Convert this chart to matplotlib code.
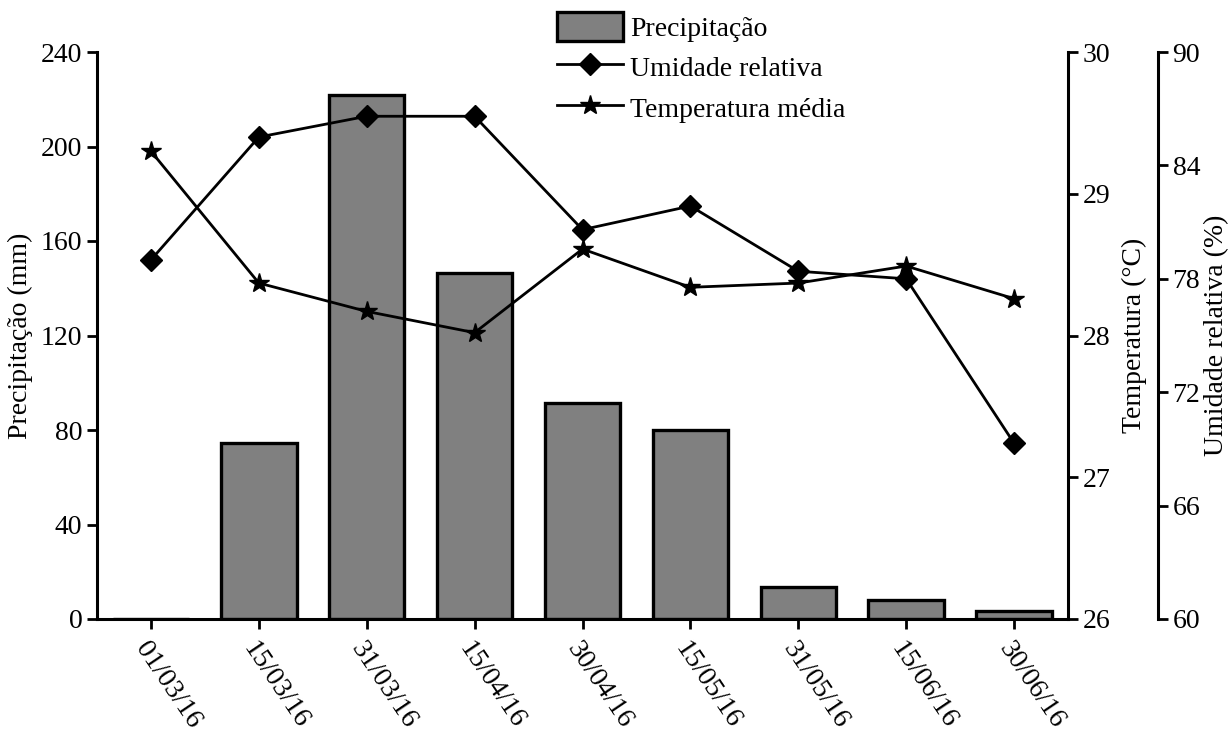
import matplotlib.pyplot as plt
import numpy as np

plt.rcParams['font.family'] = ['Liberation Serif', 'DejaVu Serif']

# Dados quinzenais
datas = ['01/03/16', '15/03/16', '31/03/16', '15/04/16', '30/04/16',
         '15/05/16', '31/05/16', '15/06/16', '30/06/16']
precipitacao = [0, 74.5, 222, 146.5, 91.5, 80, 13.5, 8, 3.3]
umidade = [79.0, 85.5, 86.6, 86.6, 80.6, 81.85, 78.4, 78.0, 69.3]
temperatura = [29.30, 28.37, 28.17, 28.02, 28.61, 28.34, 28.37, 28.49, 28.26]

x = np.arange(len(datas))
fs = 20

fig = plt.figure(figsize=(12.32, 7.35), dpi=100)
ax = fig.add_axes([97/1232, 1 - 619/735, (1068 - 97)/1232, (619 - 52)/735])
ax2 = ax.twinx()
ax3 = ax.twinx()

# Precipitacao em barras
barras = ax.bar(x, precipitacao, width=0.7, color='#808080', edgecolor='black',
                linewidth=2.4, label='Precipitação')
ax.set_xlim(-0.5, len(datas) - 0.5)
ax.set_ylim(0, 240)
ax.set_yticks(np.arange(0, 241, 40))
ax.set_ylabel('Precipitação (mm)', fontsize=fs, labelpad=6)
ax.set_xticks(x)
ax.set_xticklabels(datas, rotation=-56, ha='left', va='top', rotation_mode='anchor')

# Umidade relativa no terceiro eixo
l_umid, = ax3.plot(x, umidade, color='black', lw=2, marker='D', markersize=11,
                   label='Umidade relativa')
ax3.set_ylim(60, 90)
ax3.set_yticks(np.arange(60, 91, 6))
ax3.spines['right'].set_position(('axes', (1158 - 97) / (1068 - 97)))
ax3.set_ylabel('Umidade relativa (%)', fontsize=fs, labelpad=3)

# Temperatura media
l_temp, = ax2.plot(x, temperatura, color='black', lw=2, marker='*', markersize=15,
                   label='Temperatura média')
ax2.set_ylim(26, 30)
ax2.set_yticks(np.arange(26, 31, 1))
ax2.set_ylabel('Temperatura (°C)', fontsize=fs, labelpad=8)

for a in (ax, ax2, ax3):
    a.spines['top'].set_visible(False)
    for s in a.spines.values():
        s.set_linewidth(2.2)
    a.tick_params(labelsize=fs, width=2, length=7, direction='out')
ax.tick_params(axis='x', pad=6)
ax.spines['right'].set_visible(False)
ax2.spines['left'].set_visible(False)
ax2.spines['bottom'].set_visible(False)
ax3.spines['left'].set_visible(False)
ax3.spines['bottom'].set_visible(False)

fig.legend([barras, l_umid, l_temp],
           ['Precipitação', 'Umidade relativa', 'Temperatura média'],
           loc='upper left', bbox_to_anchor=(554/1232, 1 - 9/735), frameon=False,
           fontsize=fs, handlelength=2.4, handleheight=1.25, labelspacing=0.38,
           handletextpad=0.25, borderpad=0.1, borderaxespad=0)

fig.savefig('out.png', dpi=100)
